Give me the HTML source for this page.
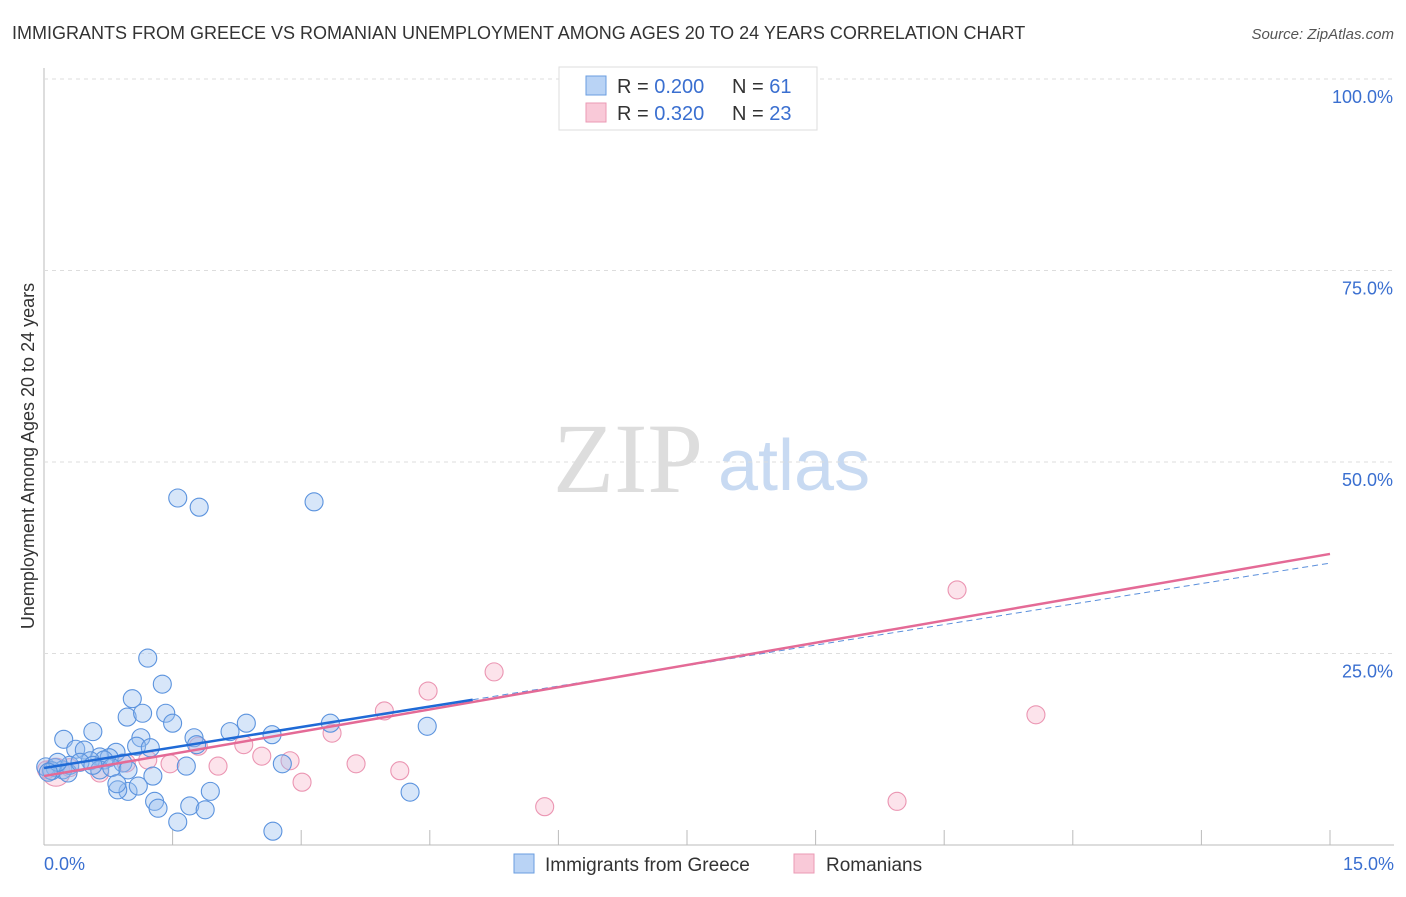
<!DOCTYPE html>
<html><head><meta charset="utf-8"><style>
body{margin:0;background:#fff;font-family:"Liberation Sans",sans-serif}
</style></head><body>
<svg id="c" width="1406" height="892" xmlns="http://www.w3.org/2000/svg" font-family="Liberation Sans, sans-serif">
<text x="12" y="39" font-size="18" fill="#333">IMMIGRANTS FROM GREECE VS ROMANIAN UNEMPLOYMENT AMONG AGES 20 TO 24 YEARS CORRELATION CHART</text>
<text x="1394" y="39" font-size="15" fill="#555" font-style="italic" text-anchor="end">Source: ZipAtlas.com</text>
<text x="553" y="492" font-size="100" fill="#ddd" style="font-family:'Liberation Serif',serif">ZIP</text>
<text x="718" y="490" font-size="72" fill="#c8daf2">atlas</text>
<text transform="translate(34,456) rotate(-90)" font-size="18" fill="#333" text-anchor="middle">Unemployment Among Ages 20 to 24 years</text>
<g id="grid"></g><g id="marks"></g>
<g>
<rect x="559" y="67" width="258" height="63" fill="#fff" stroke="#ddd"/>
<rect x="586" y="76" width="20" height="19" fill="#b9d3f5" stroke="#6a9ee0"/>
<rect x="586" y="103" width="20" height="19" fill="#f9c9d8" stroke="#eb9ab5"/>
<text x="617" y="93" font-size="20" fill="#333">R = <tspan fill="#3a6fd0">0.200</tspan><tspan x="732">N = </tspan><tspan fill="#3a6fd0">61</tspan></text>
<text x="617" y="120" font-size="20" fill="#333">R = <tspan fill="#3a6fd0"> 0.320</tspan><tspan x="732">N = </tspan><tspan fill="#3a6fd0">23</tspan></text>
</g>
<g>
<rect x="514" y="854" width="20" height="19" fill="#b9d3f5" stroke="#6a9ee0"/>
<text x="545" y="871" font-size="19" fill="#333">Immigrants from Greece</text>
<rect x="794" y="854" width="20" height="19" fill="#f9c9d8" stroke="#eb9ab5"/>
<text x="826" y="871" font-size="19" fill="#333">Romanians</text>
</g>
</svg>
<script>
const xTicks=[0,1.5,3,4.5,6,7.5,9,10.5,12,13.5,15];
const yTicks=[25,50,75,100];
const yTickLabels=["25.0%","50.0%","75.0%","100.0%"];
const greeceX=[1.56,1.81,3.15,1.21,1.38,1.03,0.97,1.15,1.42,1.50,0.57,0.23,2.36,2.17,2.66,1.75,1.13,1.78,1.08,1.24,0.37,0.47,0.84,0.65,0.76,0.70,0.54,0.92,1.66,0.02,0.13,0.22,0.30,0.09,0.28,0.65,0.79,0.98,1.27,0.98,0.86,1.10,0.85,1.29,1.33,1.70,1.88,1.94,1.56,2.67,3.34,4.47,4.27,2.78,0.16,0.05,0.42,0.57];
const greeceY=[45.3,44.1,44.8,24.4,21.0,19.1,16.7,17.2,17.2,15.9,14.8,13.8,15.9,14.8,14.4,14.0,14.0,13.1,12.9,12.7,12.5,12.4,12.1,11.5,11.4,11.1,11.0,10.7,10.3,10.2,10.1,9.8,10.4,9.7,9.4,9.8,10.1,9.8,9.0,7.0,7.2,7.7,8.0,5.7,4.8,5.1,4.6,7.0,3.0,1.8,15.9,15.5,6.9,10.6,10.8,9.5,10.8,10.4];
const romX=[0.14,0.65,0.96,1.21,1.47,1.80,2.03,2.33,2.54,2.87,3.01,3.36,3.64,3.97,4.15,4.48,5.25,5.84,9.95,10.65,11.57,0.30,0.03];
const romY=[9.5,9.4,10.7,11.1,10.6,12.9,10.3,13.1,11.6,11.0,8.2,14.6,10.6,17.5,9.7,20.1,22.6,5.0,5.7,33.3,17.0,10.1,9.8];
const greeceTrend=[10.05,36.8];
const romTrend=[9.0,38.0];
const X=v=>44+v/15*1286, Y=v=>845-v/100*766;
const NS="http://www.w3.org/2000/svg";
function mk(t,a,p){const e=document.createElementNS(NS,t);for(const k in a)e.setAttribute(k,a[k]);p.appendChild(e);return e;}
const g=document.getElementById('grid'), m=document.getElementById('marks');
mk('line',{x1:44,y1:68,x2:44,y2:845,stroke:'#bbb'},g);
mk('line',{x1:44,y1:845,x2:1394,y2:845,stroke:'#bbb'},g);
yTicks.forEach((t,i)=>{
const l=mk('line',{x1:44,y1:Y(t),x2:1394,y2:Y(t),stroke:'#ddd','stroke-dasharray':'4,4'},g);


const tx=mk('text',{x:1393,y:Y(t)+24,'font-size':18,fill:'#3a6fd0','text-anchor':'end'},g);tx.textContent=yTickLabels[i];


});
xTicks.slice(1).forEach(t=>{const l=mk('line',{x1:X(t),y1:830,x2:X(t),y2:845,stroke:'#bbb'},g);

});
let t0=mk('text',{x:44,y:870,'font-size':18,fill:'#3a6fd0'},g);t0.textContent='0.0%';


let t1=mk('text',{x:1394,y:870,'font-size':18,fill:'#3a6fd0','text-anchor':'end'},g);t1.textContent='15.0%';


romX.forEach((x,i)=>{const c=mk('circle',{cx:X(x),cy:Y(romY[i]),r:i==0?14:9,fill:'rgba(246,175,198,0.35)',stroke:'#eb95b2','stroke-width':1.1},m);

});
greeceX.forEach((x,i)=>{const c=mk('circle',{cx:X(x),cy:Y(greeceY[i]),r:9,fill:'rgba(150,190,240,0.38)',stroke:'#5b93de','stroke-width':1.1},m);

});
const gy=x=>greeceTrend[0]+(greeceTrend[1]-greeceTrend[0])*x/15;
let l1=mk('line',{x1:X(5.0),y1:Y(gy(5.0)),x2:X(15),y2:Y(gy(15)),stroke:'#5b8fdb','stroke-width':1,'stroke-dasharray':'6,4'},m);


let l2=mk('line',{x1:X(0),y1:Y(romTrend[0]),x2:X(15),y2:Y(romTrend[1]),stroke:'#e46a96','stroke-width':2.5},m);


let l3=mk('line',{x1:X(0),y1:Y(gy(0)),x2:X(5.0),y2:Y(gy(5.0)),stroke:'#1f6ad6','stroke-width':2.5},m);


</script>
</body></html>
